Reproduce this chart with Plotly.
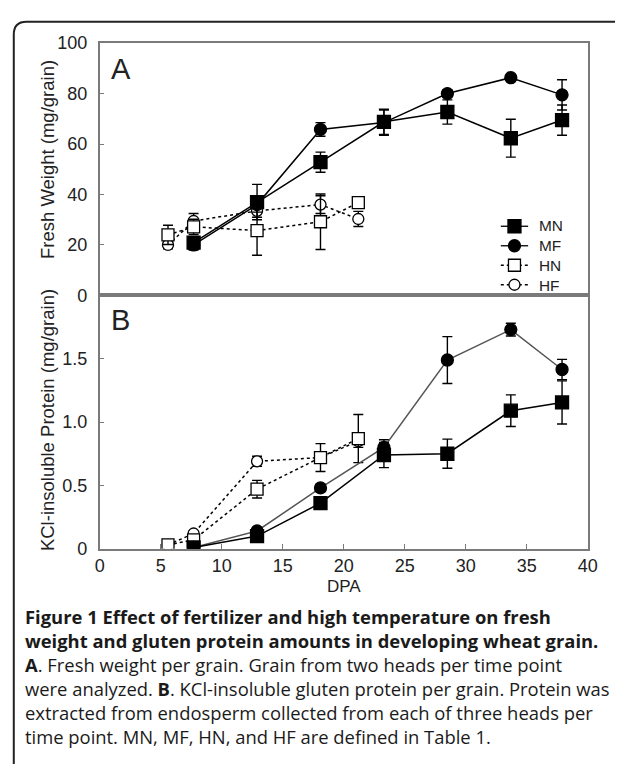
import plotly.graph_objects as go

W, H = 625, 774

# ---- data ----
dpa_m = [7.7, 12.9, 18.1, 23.3, 28.5, 33.7, 37.9]
dpa_h = [5.6, 7.7, 12.9, 18.1, 21.2]

fw_mn = [20.9, 37.0, 52.8, 68.8, 72.7, 62.3, 69.5]
fw_mn_err = [2.5, 7.0, 4.0, 5.0, 4.8, 7.5, 6.0]
fw_mf = [20.0, 36.0, 65.8, 68.5, 80.0, 86.3, 79.5]
fw_mf_err = [2.0, 3.0, 2.7, 5.0, 1.5, 1.0, 6.0]
fw_hn = [24.0, 27.2, 25.7, 29.2, 36.8]
fw_hn_err = [3.8, 3.0, 9.8, 11.0, 1.5]
fw_hf = [20.0, 29.5, 33.5, 36.0, 30.3]
fw_hf_err = [1.5, 3.0, 2.5, 3.5, 3.0]

kp_mn = [0.01, 0.10, 0.36, 0.74, 0.75, 1.09, 1.155]
kp_mn_err = [0.01, 0.02, 0.02, 0.10, 0.115, 0.125, 0.17]
kp_mf = [0.01, 0.14, 0.48, 0.80, 1.49, 1.73, 1.415]
kp_mf_err = [0.01, 0.02, 0.03, 0.06, 0.185, 0.05, 0.08]
kp_hn = [0.03, 0.07, 0.47, 0.72, 0.87]
kp_hn_err = [0.01, 0.02, 0.07, 0.11, 0.19]
kp_hf = [0.03, 0.12, 0.69, 0.72, 0.85]
kp_hf_err = [0.01, 0.02, 0.04, 0.02, 0.05]

series_names = ["MN", "MF", "HN", "HF"]

x_ticks = [0, 5, 10, 15, 20, 25, 30, 35, 40]
fw_ticks = [0, 20, 40, 60, 80, 100]
kp_ticks = [0, 0.5, 1.0, 1.5]
kp_ticktext = ["0", "0.5", "1.0", "1.5"]

caption_lines = [
    "<b>Figure 1 Effect of fertilizer and high temperature on fresh</b>",
    "<b>weight and gluten protein amounts in developing wheat grain.</b>",
    "<b>A</b>. Fresh weight per grain. Grain from two heads per time point",
    "were analyzed. <b>B</b>. KCl-insoluble gluten protein per grain. Protein was",
    "extracted from endosperm collected from each of three heads per",
    "time point. MN, MF, HN, and HF are defined in Table 1.",
]

# ---- helpers ----
def px(x):
    return x / W

def py(y):
    return 1 - y / H

FONT = "Liberation Sans, Arial, sans-serif"
AXC = "#7a7a7a"
DASH = "3px,3px"

STYLE = {
    "MN": dict(sym="square", size=13, dash="solid", fill="black"),
    "MF": dict(sym="circle", size=12, dash="solid", fill="black"),
    "HN": dict(sym="square", size=12, dash=DASH, fill="white"),
    "HF": dict(sym="circle", size=11, dash=DASH, fill="white"),
}

def err(arr):
    return dict(type="data", array=arr, visible=True, color="black", thickness=1.4, width=5)

fig = go.Figure()

def add(x, y, e, name, lcolor, xa, ya):
    s = STYLE[name]
    fig.add_trace(go.Scatter(
        x=x, y=y, name=name, mode="lines+markers",
        error_y=err(e),
        line=dict(color=lcolor, width=1.5, dash=s["dash"]),
        marker=dict(symbol=s["sym"], size=s["size"], color=s["fill"],
                    line=dict(color="black", width=1.3)),
        xaxis=xa, yaxis=ya, showlegend=False,
    ))

# Panel A (top)
add(dpa_h, fw_hf, fw_hf_err, "HF", "black", "x2", "y2")
add(dpa_h, fw_hn, fw_hn_err, "HN", "black", "x2", "y2")
add(dpa_m, fw_mf, fw_mf_err, "MF", "black", "x2", "y2")
add(dpa_m, fw_mn, fw_mn_err, "MN", "black", "x2", "y2")
# Panel B (bottom)
add(dpa_h, kp_hf, kp_hf_err, "HF", "black", "x", "y")
add(dpa_h, kp_hn, kp_hn_err, "HN", "black", "x", "y")
add(dpa_m, kp_mf, kp_mf_err, "MF", "#555555", "x", "y")
add(dpa_m, kp_mn, kp_mn_err, "MN", "black", "x", "y")

# ---- legend (drawn on a hidden pixel-coordinate overlay axis) ----
LEG_FS = 15.4
LEG_STEP = LEG_FS * 1.3
LEG_X0, LEG_X1, LEG_TX, LEG_Y0 = 508, 536, 545, 222
LEG_Y = [LEG_Y0 + i * LEG_STEP for i in range(len(series_names))]
ann = []
for name, ly in zip(series_names, LEG_Y):
    s = STYLE[name]
    fig.add_trace(go.Scatter(
        x=[LEG_X0, LEG_X1], y=[ly, ly], mode="lines",
        line=dict(color="black", width=1.3, dash=s["dash"]),
        xaxis="x3", yaxis="y3", showlegend=False, hoverinfo="skip", cliponaxis=False))
    fig.add_trace(go.Scatter(
        x=[(LEG_X0 + LEG_X1) / 2], y=[ly], mode="markers",
        marker=dict(symbol=s["sym"], size=s["size"], color=s["fill"],
                    line=dict(color="black", width=1.3)),
        xaxis="x3", yaxis="y3", showlegend=False, hoverinfo="skip", cliponaxis=False))
ann.append(dict(text="<br>".join(series_names), x=LEG_TX, y=(LEG_Y[0] + LEG_Y[-1]) / 2,
                xref="x3", yref="y3", xanchor="left", yanchor="middle", align="left",
                showarrow=False, font=dict(family=FONT, size=LEG_FS, color="#222")))

X0, X1 = 97, 597
axis_common = dict(showline=True, linecolor=AXC, linewidth=1.5, mirror=True,
                   showgrid=False, zeroline=False,
                   tickfont=dict(family=FONT, size=18, color="#222"))

fig.update_layout(
    width=W, height=H,
    margin=dict(l=0, r=0, t=0, b=0),
    paper_bgcolor="white", plot_bgcolor="rgba(0,0,0,0)",
    font=dict(family=FONT, color="#222"),
    showlegend=False,
    xaxis=dict(domain=[px(X0), px(X1)], range=[0, 40], anchor="y",
               tickvals=x_ticks, ticks="inside", ticklen=5, tickcolor=AXC, tickwidth=1.2,
               **axis_common),
    xaxis2=dict(domain=[px(X0), px(X1)], range=[0, 40], anchor="y2", matches="x",
                showticklabels=False, ticks="", **axis_common),
    yaxis=dict(domain=[py(553), py(293)], range=[0, 2], anchor="x",
               tickvals=kp_ticks, ticktext=kp_ticktext, ticks="inside", ticklen=5,
               tickcolor=AXC, tickwidth=1.2, ticklabelstandoff=7, **axis_common),
    yaxis2=dict(domain=[py(293), py(34)], range=[0, 100], anchor="x2",
                tickvals=fw_ticks, ticks="inside", ticklen=5,
                tickcolor=AXC, tickwidth=1.2, ticklabelstandoff=7, **axis_common),
    xaxis3=dict(domain=[0, 1], range=[0, W], anchor="y3", visible=False, fixedrange=True),
    yaxis3=dict(domain=[0, 1], range=[H, 0], anchor="x3", visible=False, fixedrange=True),
)

ann.append(dict(text="A", x=px(107), y=py(61), xref="paper", yref="paper",
                xanchor="left", yanchor="middle", showarrow=False,
                font=dict(family=FONT, size=29, color="#222")))
ann.append(dict(text="B", x=px(107), y=py(318), xref="paper", yref="paper",
                xanchor="left", yanchor="middle", showarrow=False,
                font=dict(family=FONT, size=29, color="#222")))
ann.append(dict(text="Fresh Weight (mg/grain)", x=px(43), y=py(153), xref="paper", yref="paper",
                textangle=-90, showarrow=False, xanchor="center", yanchor="middle",
                font=dict(family=FONT, size=18.5, color="#222")))
ann.append(dict(text="KCl-insoluble Protein (mg/grain)", x=px(43), y=py(421), xref="paper", yref="paper",
                textangle=-90, showarrow=False, xanchor="center", yanchor="middle",
                font=dict(family=FONT, size=18.5, color="#222")))
ann.append(dict(text="DPA", x=px(347), y=py(592), xref="paper", yref="paper",
                showarrow=False, xanchor="center", yanchor="middle",
                font=dict(family=FONT, size=17, color="#222")))

CAP_FONT = "Open Sans, Noto Sans, sans-serif"
ann.append(dict(text="<br>".join(caption_lines), x=px(18), y=py(608),
                xref="paper", yref="paper", showarrow=False,
                xanchor="left", yanchor="top", align="left",
                font=dict(family=CAP_FONT, size=18.4, color="#1a1a1a")))
fig.update_layout(annotations=ann)

# card border (top line + rounded corner + left line)
path = (f"M {px(625)},{py(12)} L {px(22)},{py(12)} "
        f"Q {px(9)},{py(12)} {px(9)},{py(25)} L {px(9)},{py(774)}")
fig.add_shape(type="path", path=path, xref="paper", yref="paper",
              line=dict(color="#222", width=2))

fig.write_html("out.html")
